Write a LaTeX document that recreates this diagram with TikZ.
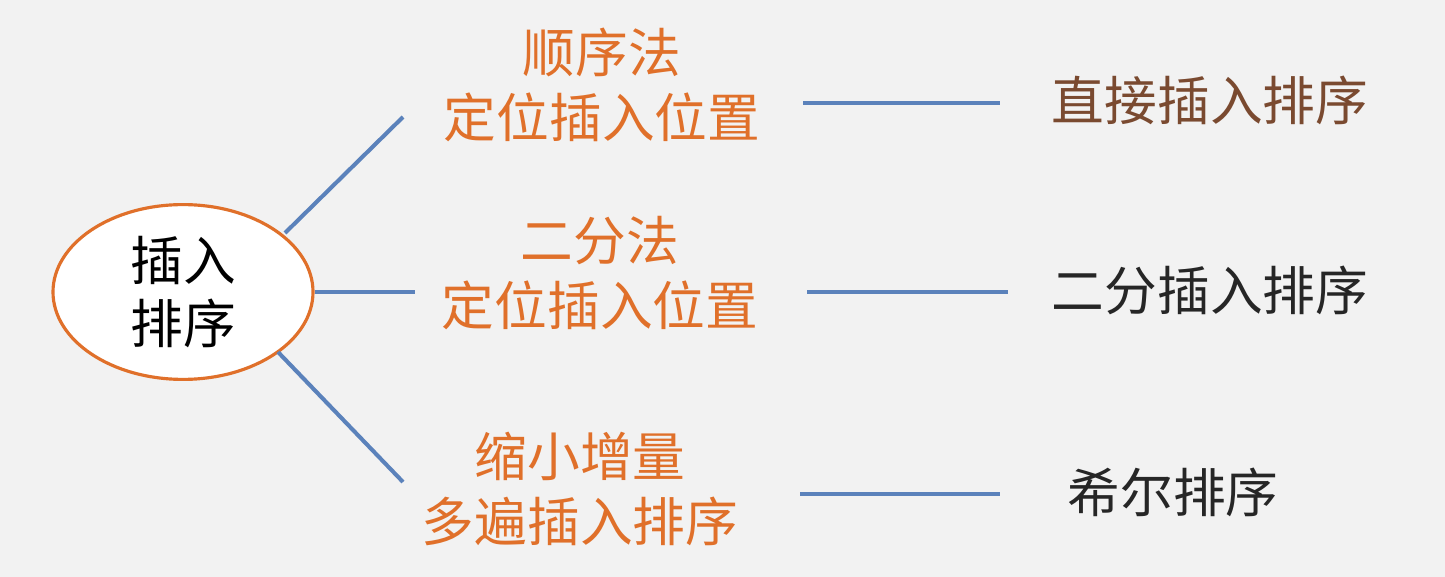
\documentclass[tikz,border=0pt]{standalone}
\usepackage{fontspec}
\setmainfont{Noto Sans CJK SC}
\usetikzlibrary{shapes.geometric}
\definecolor{bgray}{HTML}{F2F2F2}
\definecolor{sortorange}{HTML}{E0702A}
\definecolor{sortblue}{HTML}{5B82BB}
\definecolor{sortbrown}{HTML}{7A4A30}
\tikzset{
    method/.style = {
        text = sortorange,
        align = center,
        font = \fontsize{30}{37}\selectfont,
        },
    result/.style = {
        font = \fontsize{30}{37}\selectfont,
        },
    branch/.style = {
        draw = sortblue,
        line width = 2.3pt,
        },
}
\begin{document}
\begin{tikzpicture}[x=0.02cm, y=-0.02cm]
    \fill[bgray] (0,0) rectangle (1445,577);
    \useasboundingbox (0,0) rectangle (1445,577);
    \node [ellipse, draw=sortorange, line width=1.8pt, fill=white,
           minimum width=260*0.02cm, minimum height=160*0.02cm,
           align=center, font=\fontsize{30}{36}\selectfont] (root) at (183,292) {插入\\排序};

    \node [method] (m1) at (602,85) {顺序法\\定位插入位置};
    \node [method] (m2) at (600,273) {二分法\\定位插入位置};
    \node [method] (m3) at (580,489) {缩小增量\\多遍插入排序};

    \node [result, text=sortbrown] (r1) at (1210,100) {直接插入排序};
    \node [result, text=black!85] (r2) at (1210,290) {二分插入排序};
    \node [result, text=black!85] (r3) at (1173,492) {希尔排序};

    % branch ends
    \coordinate (a1) at (285,233); \coordinate (b1) at (403,117);
    \coordinate (a2) at (315,292); \coordinate (b2) at (415,292);
    \coordinate (a3) at (278,352); \coordinate (b3) at (403,482);
    \coordinate (c1) at (803,103); \coordinate (d1) at (1000,103);
    \coordinate (c2) at (807,292); \coordinate (d2) at (1008,292);
    \coordinate (c3) at (800,494); \coordinate (d3) at (1000,494);

    \foreach \i in {1,2,3} {
        \draw [branch] (a\i) -- (b\i);
        \draw [branch] (c\i) -- (d\i);
    }
\end{tikzpicture}
\end{document}
